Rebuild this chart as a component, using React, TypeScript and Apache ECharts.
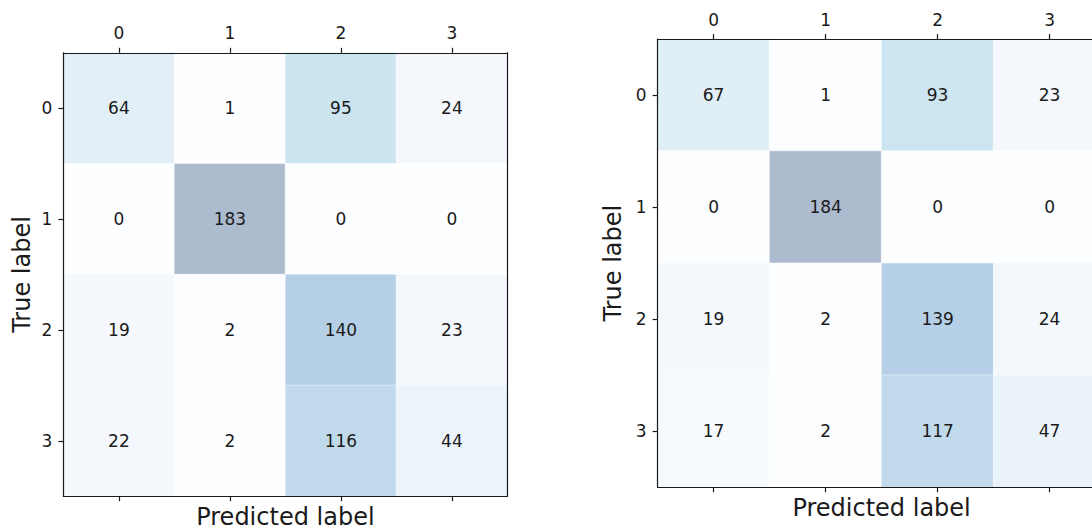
import React, { useEffect, useRef } from "react";
import * as echarts from "echarts";

const categories = ["0", "1", "2", "3"];
const leftMatrix = [
  [64, 1, 95, 24],
  [0, 183, 0, 0],
  [19, 2, 140, 23],
  [22, 2, 116, 44],
];
const rightMatrix = [
  [67, 1, 93, 23],
  [0, 184, 0, 0],
  [19, 2, 139, 24],
  [17, 2, 117, 47],
];
const xTitle = "Predicted label";
const yTitle = "True label";

const BLUES = ["#f7fbff", "#deebf7", "#c6dbef", "#9ecae1", "#6baed6", "#4292c6", "#2171b5", "#08519c", "#08306b"];
const ALPHA = 0.33;

function blend(hex: string): string {
  const r = parseInt(hex.slice(1, 3), 16);
  const g = parseInt(hex.slice(3, 5), 16);
  const b = parseInt(hex.slice(5, 7), 16);
  const f = (c: number) => Math.round(255 - ALPHA * (255 - c));
  return `rgb(${f(r)},${f(g)},${f(b)})`;
}
const CMAP = BLUES.map(blend);

function toCells(m: number[][]) {
  const out: number[][] = [];
  m.forEach((row, y) => row.forEach((v, x) => out.push([x, y, v])));
  return out;
}
function maxOf(m: number[][]) {
  return Math.max(...m.flat());
}

const INK = "#1a1a1a";
const FONT = "DejaVu Sans";

export default function App() {
  const ref = useRef<HTMLDivElement>(null);
  useEffect(() => {
    if (!ref.current) return;
    const chart = echarts.init(ref.current, undefined, { renderer: "svg" });
    const grids = [
      { left: 63.4, top: 52.8, width: 444, height: 443.4, yGap: 29 },
      { left: 657.6, top: 39, width: 448, height: 448.3, yGap: 33 },
    ];
    const lineStyle = { color: INK, width: 1.2 };
    const xAxis: any[] = [];
    const yAxis: any[] = [];
    grids.forEach((g, i) => {
      xAxis.push({
        type: "category",
        gridIndex: i,
        position: "top",
        data: categories,
        axisLine: { show: true, lineStyle },
        axisTick: { show: true, alignWithLabel: true, length: 5, lineStyle },
        axisLabel: { color: INK, fontSize: 17, margin: 11, fontFamily: FONT },
        splitLine: { show: false },
        z: 10,
      });
      xAxis.push({
        type: "category",
        gridIndex: i,
        position: "bottom",
        data: categories,
        axisLine: { show: true, lineStyle },
        axisTick: { show: true, alignWithLabel: true, length: 5, lineStyle },
        axisLabel: { show: false },
        splitLine: { show: false },
        name: xTitle,
        nameLocation: "middle",
        nameGap: 11,
        nameTextStyle: { color: INK, fontSize: 24, lineHeight: 20, fontFamily: FONT },
        z: 10,
      });
      yAxis.push({
        type: "category",
        gridIndex: i,
        position: "left",
        inverse: true,
        data: categories,
        axisLine: { show: true, lineStyle },
        axisTick: { show: true, alignWithLabel: true, length: 5, lineStyle },
        axisLabel: { color: INK, fontSize: 17, margin: 11, fontFamily: FONT },
        splitLine: { show: false },
        name: yTitle,
        nameLocation: "middle",
        nameRotate: 90,
        nameGap: g.yGap,
        nameTextStyle: { color: INK, fontSize: 24, fontFamily: FONT },
        z: 10,
      });
      yAxis.push({
        type: "category",
        gridIndex: i,
        position: "right",
        inverse: true,
        data: categories,
        axisLine: { show: true, lineStyle },
        axisTick: { show: false },
        axisLabel: { show: false },
        splitLine: { show: false },
        z: 10,
      });
    });
    const mats = [leftMatrix, rightMatrix];
    const option: any = {
      animation: false,
      textStyle: { fontFamily: FONT },
      grid: grids.map((g) => ({
        left: g.left,
        top: g.top,
        width: g.width,
        height: g.height,
        containLabel: false,
        outerBoundsMode: "none",
      })),
      xAxis,
      yAxis,
      visualMap: mats.map((m, i) => ({
        type: "continuous",
        show: false,
        seriesIndex: i,
        dimension: 2,
        min: 0,
        max: maxOf(m),
        inRange: { color: CMAP },
      })),
      series: mats.map((m, i) => ({
        type: "heatmap",
        xAxisIndex: i * 2,
        yAxisIndex: i * 2,
        data: toCells(m),
        itemStyle: { borderColor: "rgba(255,255,255,0.45)", borderWidth: 1 },
        label: {
          show: true,
          color: INK,
          fontSize: 17,
          fontFamily: FONT,
          formatter: (p: any) => String(p.value[2]),
        },
        emphasis: { disabled: true },
      })),
    };
    chart.setOption(option);
    return () => chart.dispose();
  }, []);
  return (
    <div
      ref={ref}
      style={{ position: "fixed", left: 0, top: 0, width: 1092, height: 528, background: "#fff" }}
    />
  );
}
